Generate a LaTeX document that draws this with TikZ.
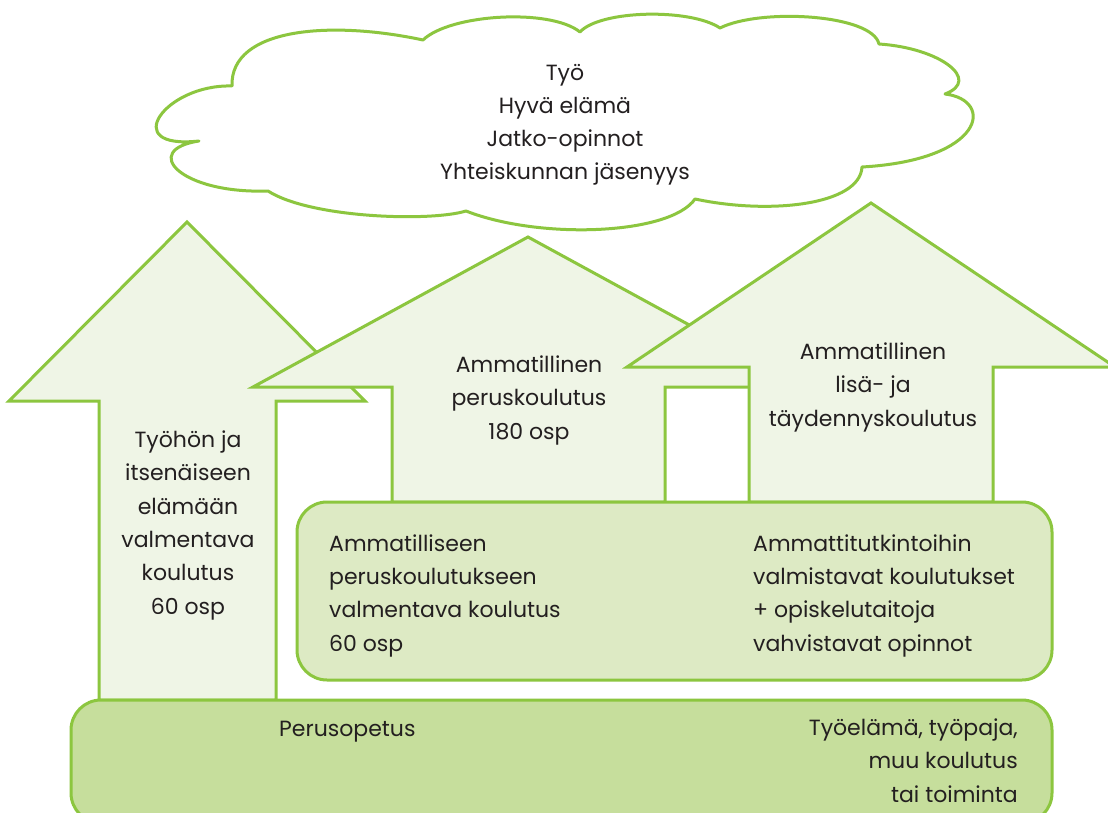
\documentclass[tikz,border=0pt]{standalone}
\usepackage{fontspec}
\setmainfont{Poppins}
\definecolor{lime}{HTML}{8CC63F}
\definecolor{arrowfill}{HTML}{EFF5E6}
\definecolor{midfill}{HTML}{DDEAC4}
\definecolor{basefill}{HTML}{C6DE9C}
\definecolor{ink}{HTML}{231F20}
\begin{document}
\begin{tikzpicture}[x=1pt,y=-1pt,
  outline/.style={draw=lime, line width=3pt, line join=miter},
  arrowshape/.style={outline, fill=arrowfill},
  cloudshape/.style={outline, fill=white, line join=round},
  boxshape/.style={outline, rounded corners=30pt},
  txt/.style={font=\fontsize{22}{33.3}\selectfont, text=ink, inner sep=0pt, anchor=base}]
\useasboundingbox (0,0) rectangle (1108,813);
\fill[white] (0,0) rectangle (1108,813);
\clip (0,0) rectangle (1108,813);

% cloud
\draw[cloudshape]
  (199,141) .. controls (118,150) and (165,84) .. (232,86)
  .. controls (230,28) and (330,20) .. (423,40)
  .. controls (450,14) and (550,8) .. (580,32)
  .. controls (600,10) and (690,8) .. (720,28)
  .. controls (760,8) and (872,14) .. (879,44)
  .. controls (940,48) and (982,80) .. (945,94)
  .. controls (995,100) and (985,160) .. (862,167)
  .. controls (860,205) and (770,215) .. (695,199)
  .. controls (670,235) and (540,240) .. (466,211)
  .. controls (430,222) and (310,218) .. (268,191)
  .. controls (180,194) and (140,150) .. (199,141) -- cycle;

% left arrow
\draw[arrowshape] (187,222) -- (365,401) -- (276,401) -- (276,700)
  -- (99,700) -- (99,401) -- (9,401) -- cycle;
% middle arrow
\draw[arrowshape] (528,237) -- (803,387) -- (665,387) -- (665,502)
  -- (392,502) -- (392,387) -- (253,387) -- cycle;
% right arrow
\draw[arrowshape] (871,203) -- (1115,367) -- (993,367) -- (993,502)
  -- (749,502) -- (749,367) -- (627,367) -- cycle;

% boxes
\draw[boxshape, fill=midfill] (297,502) rectangle (1052,680);
\draw[boxshape, fill=basefill] (71,700) rectangle (1052,823);

% texts (anchored at the baseline of their last line)
\node[txt, align=center] (goals) at (565,180)
  {Työ\\Hyvä elämä\\Jatko-opinnot\\Yhteiskunnan jäsenyys};
\node[txt, align=center] (tela) at (188,614)
  {Työhön ja\\itsenäiseen\\elämään\\valmentava\\koulutus\\60 osp};
\node[txt, align=center] (perus) at (529,439)
  {Ammatillinen\\peruskoulutus\\180 osp};
\node[txt, align=center] (lisa) at (873,426)
  {Ammatillinen\\lisä- ja\\täydennyskoulutus};
\node[txt, align=left, anchor=base west] (valma) at (329,651)
  {Ammatilliseen\\peruskoulutukseen\\valmentava koulutus\\60 osp};
\node[txt, align=left, anchor=base west] (tutk) at (753,651)
  {Ammattitutkintoihin\\valmistavat koulutukset\\+ opiskelutaitoja\\vahvistavat opinnot};
\node[txt, anchor=base west] (perusopetus) at (279,736) {Perusopetus};
\node[txt, align=right, anchor=base east] (tyoelama) at (1018,802)
  {Työelämä, työpaja,\\muu koulutus\\tai toiminta};
\end{tikzpicture}
\end{document}
